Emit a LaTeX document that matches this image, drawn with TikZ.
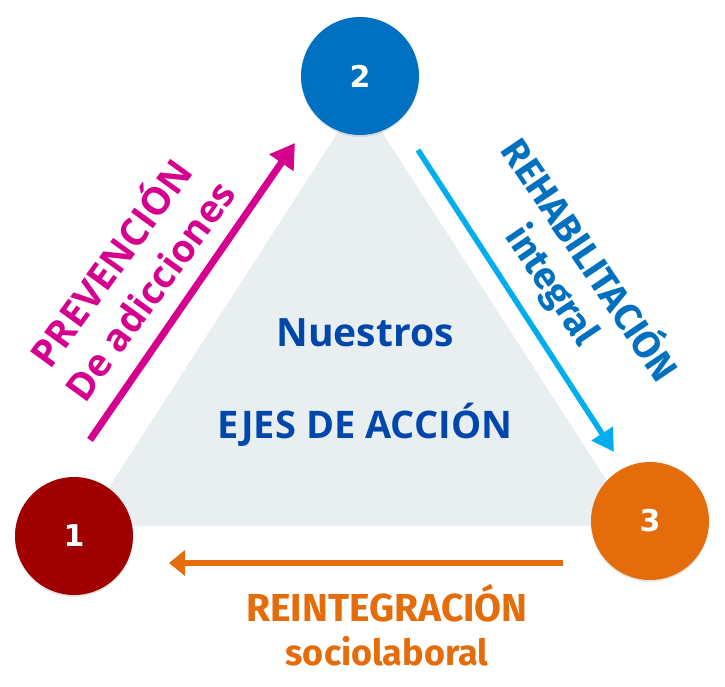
\documentclass[tikz,border=0pt]{standalone}
\usepackage{fontspec}
\setmainfont{Open Sans}
\newfontfamily\firafont{Fira Sans}
\newfontfamily\numfont{DejaVu Sans}
\usetikzlibrary{arrows.meta,shadows}
\definecolor{triback}{HTML}{E9EEF1}
\definecolor{ejeuno}{HTML}{A00000}
\definecolor{ejedos}{HTML}{0070C0}
\definecolor{ejetres}{HTML}{E46C0A}
\definecolor{prevcol}{HTML}{D6008E}
\definecolor{rehabcol}{HTML}{00AEEF}
\definecolor{titlecol}{HTML}{0047AB}
\begin{document}
\begin{tikzpicture}[x=1pt,y=-1pt,
    eje/.style={circle, fill=#1, minimum size=118pt, inner sep=0pt, text=white,
      font=\numfont\bfseries\fontsize{30}{30}\selectfont,
      drop shadow={shadow xshift=0pt, shadow yshift=-2pt, opacity=0.2}},
    lema/.style={align=center, text=#1}]
  \useasboundingbox (0,0) rectangle (725,686);

  % Triangle
  \fill[triback] (360,98) -- (84,526) -- (636,526) -- cycle;

  % Center title
  \node[text=titlecol, font=\bfseries\fontsize{39}{39}\selectfont, anchor=base] (nuestros) at (365,346) {Nuestros};
  \node[text=titlecol, font=\bfseries\fontsize{38}{38}\selectfont, anchor=base] (ejes) at (365,438) {EJES DE ACCIÓN};

  % Arrows
  \coordinate (prevA) at (90,440);
  \coordinate (prevB) at (295,143);
  \coordinate (rehabA) at (418,150);
  \coordinate (rehabB) at (614,452);
  \coordinate (reintA) at (563,563);
  \coordinate (reintB) at (169,563);
  \draw[prevcol, line width=7pt, -{Triangle[length=24pt,width=28pt]}] (prevA) -- (prevB);
  \draw[rehabcol, line width=5.5pt, -{Triangle[length=22pt,width=24pt]}] (rehabA) -- (rehabB);
  \draw[ejetres, line width=6pt, -{Triangle[length=16pt,width=25pt]}] (reintA) -- (reintB);

  % Labels
  \node[lema=prevcol, rotate=54, font=\bfseries\fontsize{38}{48}\selectfont] (prev) at (128,275) {PREVENCIÓN\\De adicciones};
  \node[lema=ejedos, rotate=-56, font=\firafont\bfseries\fontsize{38}{44}\selectfont] (rehab) at (572,272) {REHABILITACIÓN\\integral};
  \node[lema=ejetres, font=\firafont\bfseries\fontsize{39}{44}\selectfont] (reint) at (387,625) {REINTEGRACIÓN\\{\fontsize{36}{36}\selectfont sociolaboral}};

  % Circles
  \node[eje=ejeuno] (uno) at (74,536) {1};
  \node[eje=ejedos] (dos) at (360,76) {2};
  \node[eje=ejetres] (tres) at (650,521) {3};
\end{tikzpicture}
\end{document}
